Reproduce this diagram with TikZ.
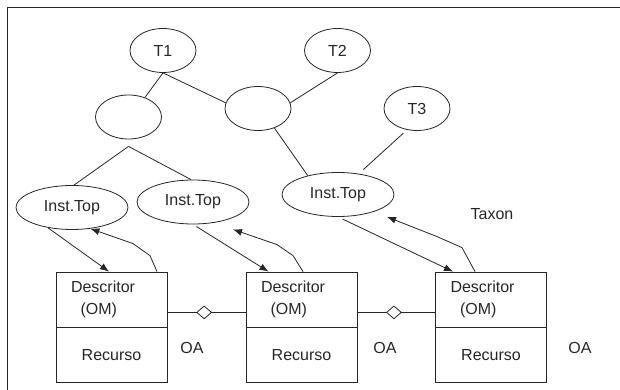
\documentclass[tikz,border=0pt]{standalone}
\usepackage{fontspec}
\setmainfont{Liberation Sans}
\usepackage{tikz}
\usetikzlibrary{arrows.meta,positioning,calc,shapes.geometric}

\begin{document}
\begin{tikzpicture}[
    x=1pt, y=-1pt,
    font=\fontsize{16}{22}\selectfont,
    line width=0.8pt, draw=black!85, text=black!85,
    topic/.style={draw, ellipse, minimum width=66pt, minimum height=44pt, inner sep=0pt},
    inst/.style={draw, ellipse, minimum width=112pt, minimum height=44pt, inner sep=0pt},
    descr/.style={draw, minimum width=111pt, minimum height=55pt, text width=81pt, inner xsep=15pt, align=left},
    res/.style={draw, minimum width=111pt, minimum height=55pt, align=center},
    agg/.style={draw, diamond, fill=white, minimum width=15pt, minimum height=13pt, inner sep=0pt},
    arrow/.style={-{Latex[length=9pt, width=7pt]}}
]
\useasboundingbox (0,0) rectangle (620,390);
\draw (7,390) -- (7,7) -- (620,7);

% topicos
\node[topic] (t1) at (163,50.5) {T1};
\node[topic] (t2) at (337.5,50.5) {T2};
\node[topic] (e1) at (128.5,117) {};
\node[topic] (e2) at (258,108.5) {};
\node[topic] (t3) at (417,108.5) {T3};
\coordinate[yshift=-7pt] (fork) at (e1.south);

% instancias
\node[inst] (i1) at (72,207.5) {Inst.Top};
\node[inst] (i2) at (193,202) {Inst.Top};
\node[inst] (i3) at (338,194.5) {Inst.Top};
\node (taxon) at (492,214) {Taxon};

% objetos de aprendizagem
\node[descr] (d1) at (111.5,299.5) {Descritor\\\hspace*{0.6em}(OM)};
\node[res, below=0pt of d1] (r1) {Recurso};
\node[descr] (d2) at (301.5,299.5) {Descritor\\\hspace*{0.6em}(OM)};
\node[res, below=0pt of d2] (r2) {Recurso};
\node[descr] (d3) at (491,299.5) {Descritor\\\hspace*{0.6em}(OM)};
\node[res, below=0pt of d3] (r3) {Recurso};
\node (oa1) at (192,348) {OA};
\node (oa2) at (385,348) {OA};
\node (oa3) at (580,348) {OA};

\draw (t1.south) -- (e1.50);
\draw (t1.south) -- (e2.170);
\draw (t2.south) -- (e2.10);
\draw (fork) -- (i1.85);
\draw (fork) -- (i2.95);
\draw (e2.-50) -- (i3.148);
\draw[shorten <=5pt, shorten >=6pt] (t3.245) -- (i3.45);

\draw ([yshift=15pt]d1.south east) -- node[agg, pos=0.47] (a1) {} ([yshift=15pt]d2.south west);
\draw ([yshift=15pt]d2.south east) -- node[agg, pos=0.47] (a2) {} ([yshift=15pt]d3.south west);

\coordinate (m2) at ($(i2.south)+(40,5)$);
\coordinate (m3) at ($(i3.south)+(49,0)$);
\draw[arrow] (i1.220) -- ([xshift=-2.5pt]d1.north);
\draw[arrow] ([xshift=45.5pt]d1.north) -- ++(-7,-16) -- ++(-17,-12) -- (i1.311);
\draw[arrow, shorten <=4pt] (i2.south) -- ([xshift=-33pt]d2.north);
\draw[arrow] ([xshift=1.5pt]d2.north) -- ++(-10,-16) -- ++(-16,-11) -- (m2);
\draw[arrow, shorten <=5pt] (i3.south) -- ([xshift=-38pt]d3.north);
\draw[arrow] ([xshift=-16pt]d3.north) -- ++(-13,-24) -- ++(-25,-11) -- (m3);
\end{tikzpicture}
\end{document}
